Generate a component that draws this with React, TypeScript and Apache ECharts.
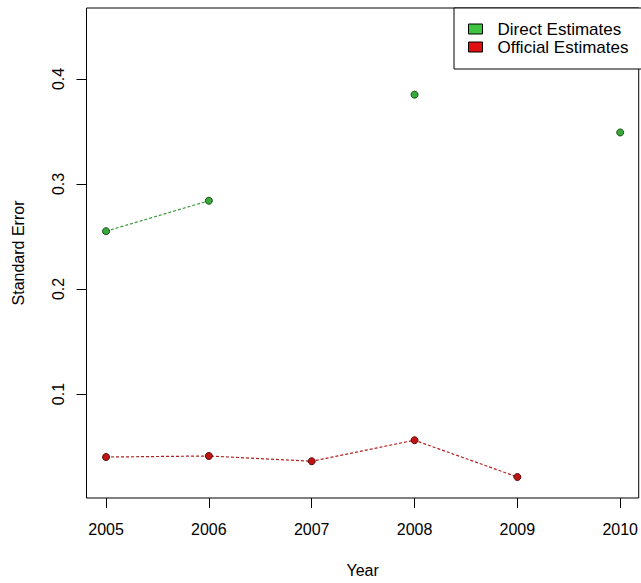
import React, { useEffect, useRef } from "react";
import * as echarts from "echarts";

// Years on the x axis and standard errors of the two estimate types
const years = [2005, 2006, 2007, 2008, 2009, 2010];
const directSE: (number | null)[] = [0.255, 0.284, null, 0.385, null, 0.349];
const officialSE: (number | null)[] = [0.040, 0.041, 0.036, 0.056, 0.021, null];
const yTicks = [0.1, 0.2, 0.3, 0.4];
const seriesNames = ["Direct Estimates", "Official Estimates"];

const FONT = "Liberation Sans, Arial, sans-serif";

const toPairs = (vals: (number | null)[]) =>
  years.map((y, i) => [y, vals[i] === null ? "-" : vals[i]]);

export default function App() {
  const ref = useRef<HTMLDivElement>(null);

  useEffect(() => {
    if (!ref.current) return;
    const chart = echarts.init(ref.current, undefined, { renderer: "svg" });
    chart.setOption({
      animation: false,
      backgroundColor: "#fff",
      grid: {
        left: 86.5,
        right: 1.5,
        top: 8,
        bottom: 82,
        show: true,
        borderColor: "#000",
        borderWidth: 1,
        backgroundColor: "transparent",
      },
      legend: {
        left: 454,
        top: 8,
        orient: "vertical",
        padding: [12, 60, 13, 14],
        itemGap: 0,
        itemWidth: 14,
        itemHeight: 10,
        borderColor: "#000",
        borderWidth: 1,
        backgroundColor: "#fff",
        textStyle: {
          fontFamily: FONT,
          fontSize: 17,
          color: "#000",
          lineHeight: 18,
          padding: [0, 0, 0, 10],
        },
        data: [
          { name: seriesNames[0], icon: "rect", itemStyle: { color: "#3fc43f", borderColor: "#000", borderWidth: 1 } },
          { name: seriesNames[1], icon: "rect", itemStyle: { color: "#e01010", borderColor: "#000", borderWidth: 1 } },
        ],
      },
      xAxis: {
        type: "value",
        min: 2004.81,
        max: 2010.18,
        name: "Year",
        nameLocation: "middle",
        nameGap: 64,
        nameTextStyle: { fontFamily: FONT, fontSize: 16, color: "#000" },
        axisLine: { show: false },
        splitLine: { show: false },
        axisTick: {
          show: true,
          length: 10,
          customValues: years,
          lineStyle: { color: "#000" },
        },
        axisLabel: {
          customValues: years,
          margin: 23,
          fontFamily: FONT,
          fontSize: 16,
          color: "#000",
          formatter: (v: number) => String(Math.round(v)),
        },
      },
      yAxis: {
        type: "value",
        min: 0.001,
        max: 0.4675,
        name: "Standard Error",
        nameLocation: "middle",
        nameRotate: 90,
        nameGap: 60,
        nameTextStyle: { fontFamily: FONT, fontSize: 16, color: "#000" },
        axisLine: { show: false },
        splitLine: { show: false },
        axisTick: {
          show: true,
          length: 10,
          customValues: yTicks,
          lineStyle: { color: "#000" },
        },
        axisLabel: {
          customValues: yTicks,
          rotate: 90,
          margin: 20,
          fontFamily: FONT,
          fontSize: 16,
          color: "#000",
          formatter: (v: number) => v.toFixed(1),
        },
      },
      series: [
        {
          name: seriesNames[0],
          type: "line",
          data: toPairs(directSE),
          connectNulls: false,
          showAllSymbol: true,
          symbol: "circle",
          symbolSize: 7,
          itemStyle: { color: "#38a838", borderColor: "#1b4d1b", borderWidth: 1 },
          lineStyle: { color: "#3a9a3a", width: 1.2, type: [3, 2] },
          z: 3,
        },
        {
          name: seriesNames[1],
          type: "line",
          data: toPairs(officialSE),
          connectNulls: false,
          showAllSymbol: true,
          symbol: "circle",
          symbolSize: 7,
          itemStyle: { color: "#c01414", borderColor: "#5a0a0a", borderWidth: 1 },
          lineStyle: { color: "#b42020", width: 1.2, type: [3, 2] },
          z: 3,
        },
      ],
    });
    return () => chart.dispose();
  }, []);

  return <div ref={ref} style={{ width: 641, height: 583, position: "absolute", left: 0, top: 0 }} />;
}
